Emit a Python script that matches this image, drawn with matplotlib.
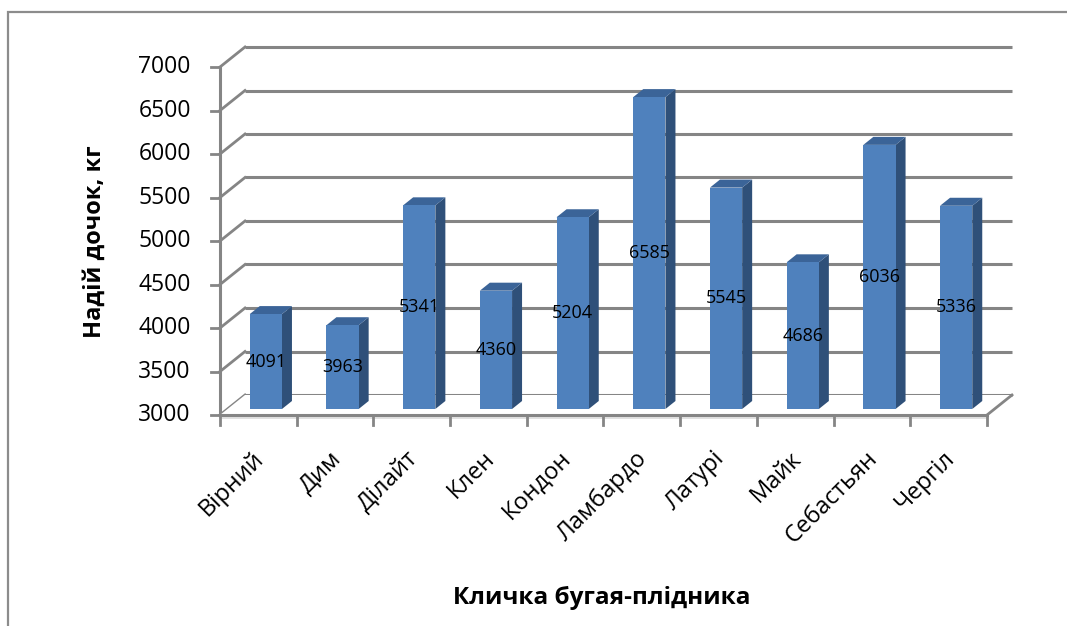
import matplotlib.pyplot as plt
from matplotlib.patches import Polygon, Rectangle

plt.rcParams['font.family'] = ['Open Sans', 'DejaVu Sans']

names = ["Вірний", "Дим", "Ділайт", "Клен", "Кондон", "Ламбардо",
         "Латурі", "Майк", "Себастьян", "Чергіл"]
yields = [4091, 3963, 5341, 4360, 5204, 6585, 5545, 4686, 6036, 5336]
y_ticks = [3000, 3500, 4000, 4500, 5000, 5500, 6000, 6500, 7000]
y_title = "Надій дочок, кг"
x_title = "Кличка бугая-плідника"

# fake 3d: a point at depth f (0 = back wall, 1 = front) is shifted left/down
DX, DY = 0.326, 230.0
BASE = 3000
BW = 0.42               # bar width in category units
F_FRONT, F_BACK = 0.7, 0.3

def proj(x, v, f):
    return (x - f * DX, v - f * DY)

W, H = 1067, 626
fig = plt.figure(figsize=(W / 100, H / 100), dpi=100)
ax = fig.add_axes([0, 0, 1, 1])
# pixel layout: category slot = 76.7 px, back wall x=0 at 245 px; 500 kg = 43.5 px
sx, x0px = 76.7, 245
sy, base_py = 0.087, 395
ax.set_xlim(-x0px / sx, (W - x0px) / sx)
ax.set_ylim(BASE - (H - base_py) / sy, BASE + base_py / sy)
ax.axis("off")

grid_c = "#858585"
n = len(names)

# outer chart border (right and bottom edges fall outside the picture)
ax.add_patch(Rectangle((-(x0px - 8) / sx, BASE - (H + 40 - base_py) / sy),
                       (W + 60) / sx, (H + 28) / sy, fill=False,
                       ec="#8c8c8c", lw=1.6, zorder=0))

# back wall gridlines + left wall diagonals + y ticks
for t in y_ticks:
    ax.plot([0, n], [t, t], color=grid_c, lw=2.2, solid_capstyle="butt", zorder=1)
    ax.plot(*zip(proj(0, t, 1), proj(0, t, 0)), color=grid_c, lw=2, zorder=1)
    fx, fy = proj(0, t, 1)
    ax.plot([fx - 0.12, fx], [fy, fy], color=grid_c, lw=2, zorder=1)
    ax.text(fx - 0.38, fy, str(t), ha="right", va="center", fontsize=16.5)

# front value axis
ax.plot(*zip(proj(0, y_ticks[0], 1), proj(0, y_ticks[-1], 1)),
        color=grid_c, lw=2.2, zorder=1)

# floor
floor = [proj(0, BASE, 1), proj(n, BASE, 1), proj(n, BASE, 0), proj(0, BASE, 0)]
ax.add_patch(Polygon(floor, closed=True, fc="white", ec="none", zorder=1))
ax.plot(*zip(proj(0, BASE, 1), proj(n, BASE, 1)), color=grid_c, lw=2.2, zorder=2)
ax.plot(*zip(proj(n, BASE, 1), proj(n, BASE, 0)), color=grid_c, lw=2, zorder=2)
ax.plot(*zip(proj(0, BASE - 30, 1), proj(n, BASE - 30, 1)), color="#dcdcdc", lw=1.2, zorder=1)

# category ticks
for i in range(n + 1):
    fx, fy = proj(i, BASE, 1)
    ax.plot([fx, fx], [fy, fy - 115], color=grid_c, lw=2, zorder=2)

# bars
for i, v in enumerate(yields):
    a, b = i + 0.5 - BW / 2, i + 0.5 + BW / 2
    front = [proj(a, BASE, F_FRONT), proj(b, BASE, F_FRONT),
             proj(b, v, F_FRONT), proj(a, v, F_FRONT)]
    side = [proj(b, BASE, F_FRONT), proj(b, BASE, F_BACK),
            proj(b, v, F_BACK), proj(b, v, F_FRONT)]
    top = [proj(a, v, F_FRONT), proj(b, v, F_FRONT),
           proj(b, v, F_BACK), proj(a, v, F_BACK)]
    ax.add_patch(Polygon(side, closed=True, fc="#2f5079", ec="none", zorder=3))
    ax.add_patch(Polygon(top, closed=True, fc="#3b6498", ec="none", zorder=3))
    ax.add_patch(Polygon(front, closed=True, fc="#4f81bd", ec="none", zorder=3))
    lx, ly = proj(i + 0.5, (BASE + v) / 2, F_FRONT)
    ax.text(lx, ly, str(v), ha="center", va="center", fontsize=13, zorder=5)

# category labels
for i, name in enumerate(names):
    fx, fy = proj(i + 0.5, BASE, 1)
    ax.text(fx + 0.03, fy - 460, name, rotation=45, rotation_mode="anchor",
            ha="right", va="center", fontsize=17)

# axis titles
ax.text(-(x0px - 95) / sx, BASE + (base_py - 242) / sy, y_title, rotation=90,
        ha="center", va="center", fontsize=17, fontweight="bold")
ax.text((602 - x0px) / sx, BASE - (598 - base_py) / sy, x_title,
        ha="center", va="center", fontsize=17.5, fontweight="bold")

fig.savefig("out.png", dpi=100)
